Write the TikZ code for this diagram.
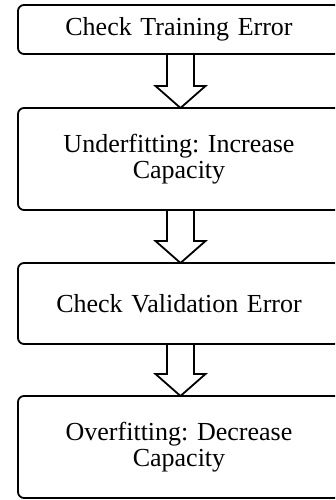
\documentclass[tikz,border=0pt]{standalone}
\usepackage{fontspec}
\setmainfont{Liberation Serif}
\usetikzlibrary{calc}
\frenchspacing
\newcommand\blockarrow[2]{%
  \draw[barrow] let \p1=(#1.south), \p2=(#2.north) in
    (\x1+1.5-13.5,\y1) -- (\x1+1.5-13.5,\y2+22) -- (\x1+1.5-25,\y2+22) --
    (\x1+1.5,\y2) -- (\x1+1.5+25,\y2+22) -- (\x1+1.5+13.5,\y2+22) --
    (\x1+1.5+13.5,\y1) -- cycle;}
\begin{document}
\begin{tikzpicture}[x=1pt,y=1pt,
  box/.style={draw=black, line width=1.8pt, rounded corners=6pt,
    minimum width=322pt, text width=300pt, align=center, inner sep=0pt,
    outer sep=0pt, font=\fontsize{26}{26}\selectfont\frenchspacing},
  barrow/.style={draw=black, line width=1.8pt, fill=white, line join=miter}]
\useasboundingbox (0,0) rectangle (335,500);
\clip (0,0) rectangle (335,500);
\node[box, minimum height=49pt] (b1) at (179,470.5) {Check Training Error};
\node[box, minimum height=102pt] (b2) at (179,341) {Underfitting: Increase\\Capacity};
\node[box, minimum height=81pt] (b3) at (179,196.5) {Check Validation Error};
\node[box, minimum height=102pt] (b4) at (179,53) {Overfitting: Decrease\\Capacity};
\blockarrow{b1}{b2}
\blockarrow{b2}{b3}
\blockarrow{b3}{b4}
\end{tikzpicture}
\end{document}
